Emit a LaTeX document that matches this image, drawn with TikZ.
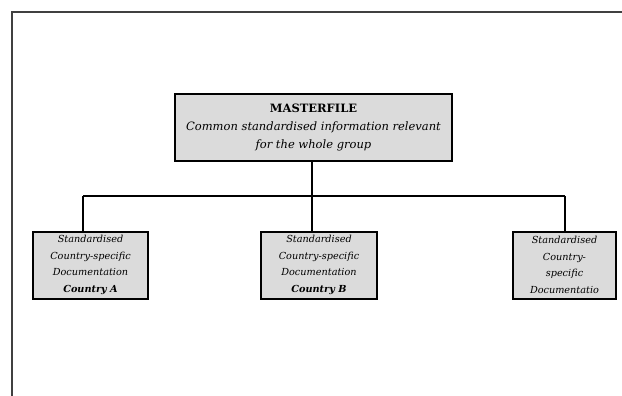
\documentclass[tikz,border=0pt]{standalone}
\usepackage{fontspec}
\setmainfont{DejaVu Serif}
\begin{document}
\begin{tikzpicture}[x=1pt,y=-1pt,
  framel/.style={draw=black!75,line width=1.5pt},
  box/.style={draw=black,line width=2pt,fill=black!14,inner sep=0pt,align=center},
  conn/.style={draw=black,line width=2pt},
  mtext/.style={font=\fontsize{11.5}{18}\selectfont},
  ctext/.style={font=\fontsize{9.7}{16.5}\selectfont}]
\useasboundingbox (0,0) rectangle (622,396);
\draw[framel] (12,396) -- (12,12) -- (622,12);
\node[box,mtext,minimum width=277pt,minimum height=66pt] (m) at (313.5,127.5)
  {\textbf{MASTERFILE}\\\textit{Common standardised information relevant}\\\textit{for the whole group}};
\node[box,ctext,minimum width=115pt,minimum height=67pt] (a) at (90.5,265)
  {\textit{Standardised}\\\textit{Country-specific}\\\textit{Documentation}\\\textbf{\textit{Country A}}};
\node[box,ctext,minimum width=116pt,minimum height=67pt] (b) at (319,265)
  {\textit{Standardised}\\\textit{Country-specific}\\\textit{Documentation}\\\textbf{\textit{Country B}}};
\node[box,ctext,minimum width=103pt,minimum height=67pt] (c) at (564.5,265)
  {\textit{Standardised}\\\textit{Country-}\\\textit{specific}\\\textit{Documentatio}};
\coordinate (bus) at (312,196);
\coordinate (busL) at (83,196);
\coordinate (busR) at (564.5,196);
\draw[conn] (m.south -| bus) -- (bus);
\draw[conn] (busL) -- (busR);
\draw[conn] (busL) -- (busL |- a.north);
\draw[conn] (bus) -- (bus |- b.north);
\draw[conn] (busR) -- (c.north);
\end{tikzpicture}
\end{document}
